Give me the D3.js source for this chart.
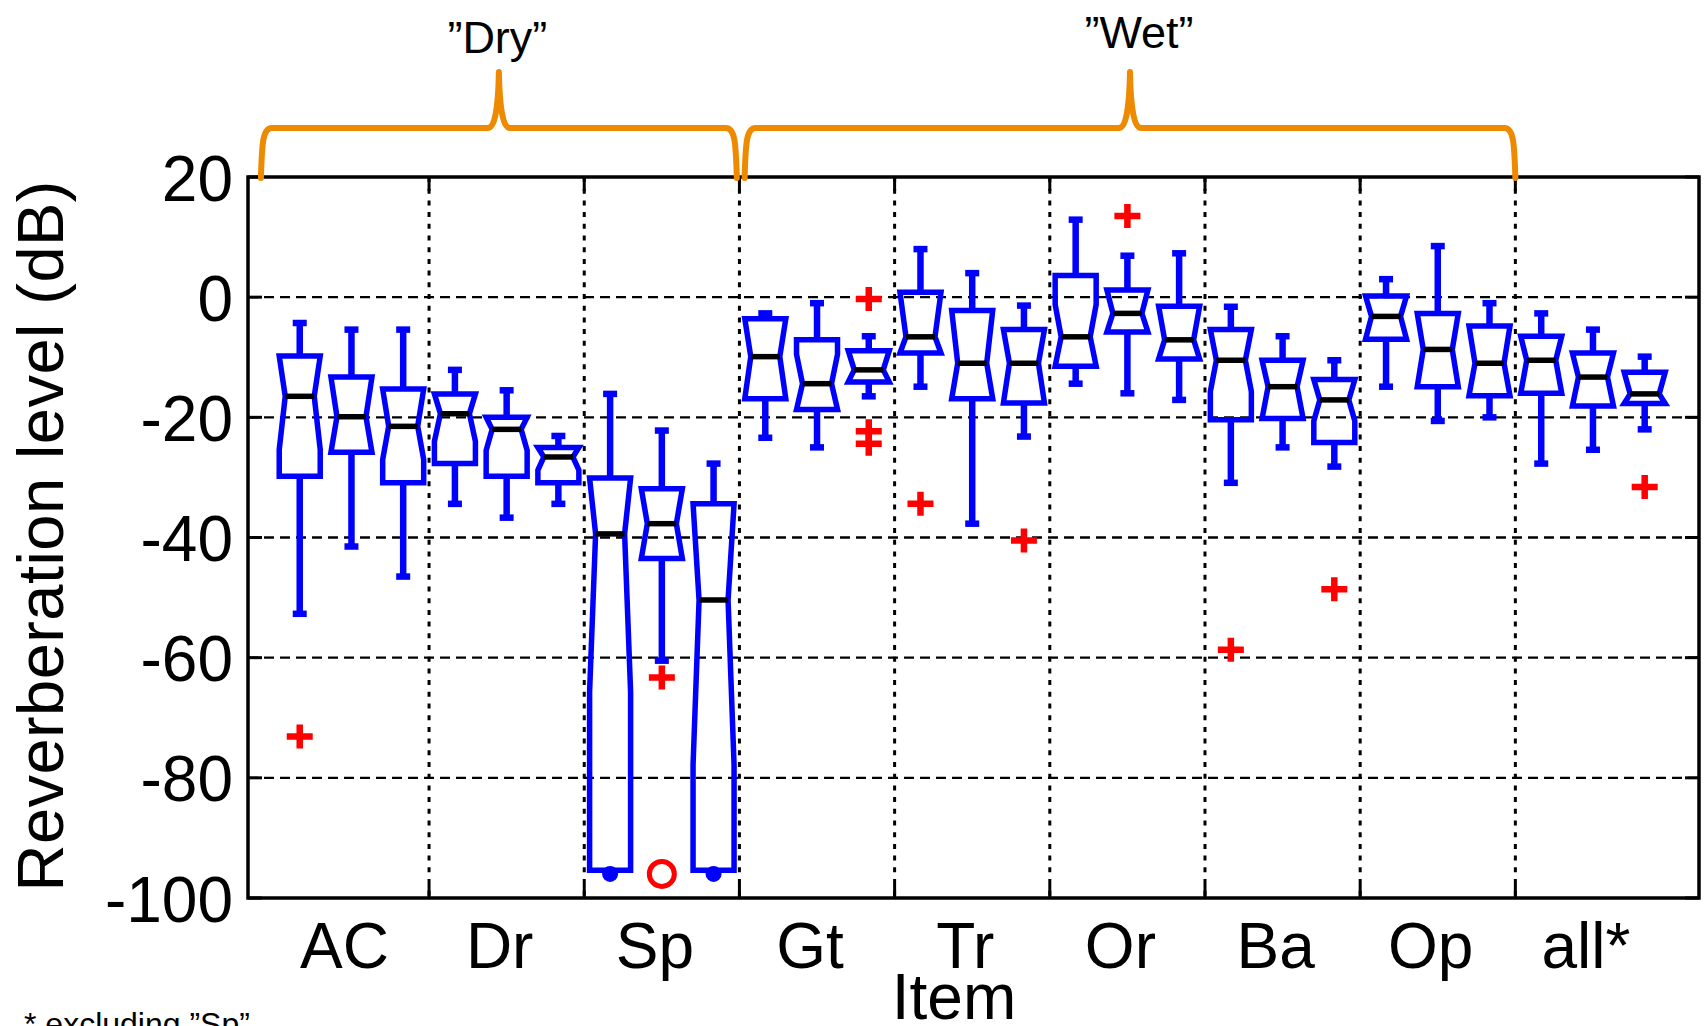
<!DOCTYPE html>
<html><head><meta charset="utf-8">
<script src="https://cdn.jsdelivr.net/npm/d3@7"></script>
<style>
body{margin:0;background:#fff}
svg{display:block}
text{font-family:"Liberation Sans",Arial,Helvetica,sans-serif;fill:#000}
</style>
</head><body>
<svg id="chart" width="1704" height="1026"></svg>
<script>
// ---------- data ----------
const categories = ["AC","Dr","Sp","Gt","Tr","Or","Ba","Op","all*"];
const boxesPerCategory = 3;
// 27 boxes, left to right (3 per category)
const whiskerHigh = [-4.3,-5.4,-5.4,  -12.1,-15.5,-23.1,  -16.1,-22.2,-27.7,
                     -2.7,-1.0,-6.5,   8.0,4.0,-1.4,      12.9,6.9,7.3,
                     -1.6,-6.5,-10.5,  3.0,8.5,-1.0,      -2.7,-5.4,-9.9];
const q3          = [-9.8,-13.3,-15.3, -16.1,-20.0,-25.0, -30.1,-31.9,-34.4,
                     -3.6,-7.1,-8.9,   0.8,-2.2,-5.4,     3.6,1.2,-1.5,
                     -5.4,-10.5,-13.7, 0.2,-2.7,-4.8,     -6.5,-9.3,-12.5];
const notchHigh   = [-9.8,-13.3,-15.3, -16.1,-20.0,-25.0, -30.1,-31.9,-34.4,
                     -3.6,-9.5,-8.9,   0.8,-2.2,-5.4,     -1.2,1.2,-1.5,
                     -5.4,-10.5,-13.7, 0.2,-2.7,-4.8,     -6.5,-9.3,-12.5];
const median      = [-16.5,-19.9,-21.5, -19.4,-22.0,-26.6, -39.4,-37.7,-50.4,
                     -9.9,-14.4,-12.1, -6.6,-11.0,-11.0,  -6.6,-2.7,-7.1,
                     -10.5,-14.9,-17.1, -3.2,-8.7,-11.0,  -10.5,-13.3,-16.1];
const notchLow    = [-25.4,-25.8,-27.0, -24.0,-25.5,-28.8, -65.7,-43.5,-77.8,
                     -16.9,-18.7,-14.1, -9.3,-16.9,-17.6, -11.5,-5.8,-10.3,
                     -15.7,-20.2,-20.6, -7.0,-14.9,-16.4, -16.0,-18.1,-17.7];
const q1          = [-29.8,-25.8,-30.9, -27.7,-29.8,-30.9, -95.4,-43.5,-95.4,
                     -16.9,-18.7,-14.1, -9.3,-16.9,-17.6, -11.5,-5.8,-10.3,
                     -20.4,-20.2,-24.2, -7.0,-14.9,-16.4, -16.0,-18.1,-17.7];
const whiskerLow  = [-52.7,-41.5,-46.5, -34.4,-36.7,-34.4, -95.4,-60.5,-95.4,
                     -23.4,-25.0,-16.5, -14.9,-37.7,-23.2, -14.4,-16.0,-17.1,
                     -30.9,-25.0,-28.2, -14.9,-20.6,-20.0, -27.7,-25.4,-22.0];
// outliers: [box index, value]
const outlierBox   = [0, 7, 11, 11, 11, 12, 14, 16, 18, 20, 26];
const outlierValue = [-73.1, -63.3, -0.3, -22.3, -24.4, -34.4, -40.5, 13.5, -58.7, -48.6, -31.6];
// blue floor dots and red circle marker (clipped values)
const floorDotBox = [6, 8];
const floorDotValue = [-96.0, -96.0];
const circleBox = [7];
const circleValue = [-96.0];
const yTicks = [20, 0, -20, -40, -60, -80, -100];
const gridValues = [0, -20, -40, -60, -80];
// braces (in box-position units)
const braceLabels = ["\u201DDry\u201D", "\u201DWet\u201D"];
const braceStart = [0.25, 9.6];
const braceEnd = [9.45, 24.5];
const braceTip = [4.85, 17.05];

// ---------- layout ----------
const svg = d3.select("#chart");
const L = 248, R = 1699, T = 177, B = 898;
const nBoxes = categories.length * boxesPerCategory;
const x = d3.scaleLinear().domain([0, 28.05]).range([L, R]);
const y = d3.scaleLinear().domain([-100, 20]).range([B, T]);
const blue = "#0000FF", red = "#FF0000", orange = "#EE8A00";

svg.append("rect").attr("width",1704).attr("height",1026).attr("fill","#fff");

// grid
const grid = svg.append("g");
grid.selectAll("line.h").data(gridValues).join("line")
  .attr("x1", L).attr("x2", R).attr("y1", d => y(d)).attr("y2", d => y(d))
  .attr("stroke","#000").attr("stroke-width",2.4).attr("stroke-dasharray","10,6");
const seps = d3.range(1, categories.length).map(k => k*boxesPerCategory + 0.5);
grid.selectAll("line.v").data(seps).join("line")
  .attr("x1", d => x(d)).attr("x2", d => x(d)).attr("y1", T).attr("y2", B)
  .attr("stroke","#000").attr("stroke-width",3).attr("stroke-dasharray","5,6.7");

// ticks (inward)
const ticks = svg.append("g").attr("stroke","#000").attr("stroke-width",3);
yTicks.forEach(v => {
  ticks.append("line").attr("x1",L).attr("x2",L+14).attr("y1",y(v)).attr("y2",y(v));
  ticks.append("line").attr("x1",R-14).attr("x2",R).attr("y1",y(v)).attr("y2",y(v));
});
seps.forEach(s => {
  ticks.append("line").attr("x1",x(s)).attr("x2",x(s)).attr("y1",B).attr("y2",B-14);
  ticks.append("line").attr("x1",x(s)).attr("x2",x(s)).attr("y1",T).attr("y2",T+14);
});

// y axis labels via d3 axis (plain hyphen minus like the reference)
const yAxis = svg.append("g").attr("transform",`translate(${L},0)`)
  .call(d3.axisLeft(y).tickValues(yTicks).tickSize(0).tickPadding(15).tickFormat(d => String(d)));
yAxis.select(".domain").remove();
yAxis.selectAll("text").attr("font-size",64).attr("dy","0.36em")
  .attr("font-family",'"Liberation Sans",Arial,sans-serif').attr("fill","#000");

// x labels
svg.append("g").selectAll("text").data(categories).join("text")
  .attr("x", (d,i) => x(i*boxesPerCategory + 2) - 7)
  .attr("y", 968).attr("text-anchor","middle").attr("font-size",64).text(d => d);

// boxes
const idx = d3.range(nBoxes);
const hw = 20.5, inset = 6, cap = 7;
const boxes = svg.append("g");
boxes.selectAll("path.box").data(idx).join("path")
  .attr("d", i => {
    const c = x(i+1), a = c-hw, b = c+hw;
    const nh = Math.min(notchHigh[i], q3[i]), nl = Math.max(notchLow[i], q1[i]);
    const p = [[a,y(q1[i])],[a,y(nl)],[a+inset,y(median[i])],[a,y(nh)],[a,y(q3[i])],
               [b,y(q3[i])],[b,y(nh)],[b-inset,y(median[i])],[b,y(nl)],[b,y(q1[i])]];
    return "M" + p.map(q => q.join(",")).join("L") + "Z";
  })
  .attr("fill","none").attr("stroke",blue).attr("stroke-width",5.5).attr("stroke-linejoin","miter");

const wh = boxes.append("g").attr("stroke",blue).attr("stroke-width",6.5);
idx.forEach(i => {
  const c = x(i+1);
  if (whiskerHigh[i] > q3[i]) {
    wh.append("line").attr("x1",c).attr("x2",c).attr("y1",y(q3[i])).attr("y2",y(whiskerHigh[i]));
    wh.append("line").attr("x1",c-cap).attr("x2",c+cap).attr("y1",y(whiskerHigh[i])).attr("y2",y(whiskerHigh[i]));
  }
  if (whiskerLow[i] < q1[i]) {
    wh.append("line").attr("x1",c).attr("x2",c).attr("y1",y(q1[i])).attr("y2",y(whiskerLow[i]));
    wh.append("line").attr("x1",c-cap).attr("x2",c+cap).attr("y1",y(whiskerLow[i])).attr("y2",y(whiskerLow[i]));
  }
});

boxes.selectAll("line.med").data(idx).join("line")
  .attr("x1", i => x(i+1)-hw+inset).attr("x2", i => x(i+1)+hw-inset)
  .attr("y1", i => y(median[i])).attr("y2", i => y(median[i]))
  .attr("stroke","#000").attr("stroke-width",5.5);

// outliers
svg.append("g").selectAll("path").data(d3.range(outlierBox.length)).join("path")
  .attr("transform", k => `translate(${x(outlierBox[k]+1)},${y(outlierValue[k])})`)
  .attr("d","M-13,0H13M0,-12V12").attr("stroke",red).attr("stroke-width",6.5).attr("fill","none");

// floor dots & circle
svg.append("g").selectAll("circle").data(d3.range(floorDotBox.length)).join("circle")
  .attr("cx", k => x(floorDotBox[k]+1)).attr("cy", k => y(floorDotValue[k]))
  .attr("r",8).attr("fill",blue);
svg.append("g").selectAll("circle").data(d3.range(circleBox.length)).join("circle")
  .attr("cx", k => x(circleBox[k]+1)).attr("cy", k => y(circleValue[k]))
  .attr("r",12.5).attr("fill","none").attr("stroke",red).attr("stroke-width",5);

// frame
svg.append("rect").attr("x",L).attr("y",T).attr("width",R-L).attr("height",B-T)
  .attr("fill","none").attr("stroke","#000").attr("stroke-width",3.5);

// braces
const yBase = T+1, yBar = 128, yTipY = 72;
function bracePath(xs, xe, xt) {
  return `M${xs},${yBase} C${xs+1},${yBar+14} ${xs+2},${yBar} ${xs+11},${yBar}` +
         ` L${xt-11},${yBar} Q${xt-1},${yBar} ${xt},${yTipY} Q${xt+1},${yBar} ${xt+11},${yBar}` +
         ` L${xe-11},${yBar} C${xe-2},${yBar} ${xe-1},${yBar+14} ${xe},${yBase}`;
}
const braceLabelDx = [-1.5, 9];
const braceLabelY = [53, 48];
braceLabels.forEach((lab, k) => {
  svg.append("path").attr("d", bracePath(x(braceStart[k]), x(braceEnd[k]), x(braceTip[k])))
    .attr("fill","none").attr("stroke",orange).attr("stroke-width",6)
    .attr("stroke-linecap","round").attr("stroke-linejoin","round");
  svg.append("text").attr("x", x(braceTip[k]) + braceLabelDx[k]).attr("y", braceLabelY[k])
    .attr("text-anchor","middle").attr("font-size",45).text(lab);
});

// axis titles
svg.append("text").attr("transform","translate(63,536) rotate(-90)")
  .attr("text-anchor","middle").attr("font-size",65)
  .attr("textLength",711).attr("lengthAdjust","spacing").text("Reverberation level (dB)");
svg.append("text").attr("x",954).attr("y",1019).attr("text-anchor","middle")
  .attr("font-size",64).text("Item");
svg.append("text").attr("x",24).attr("y",1035).attr("font-size",32)
  .text("* excluding \u201DSp\u201D");
</script>
</body></html>
